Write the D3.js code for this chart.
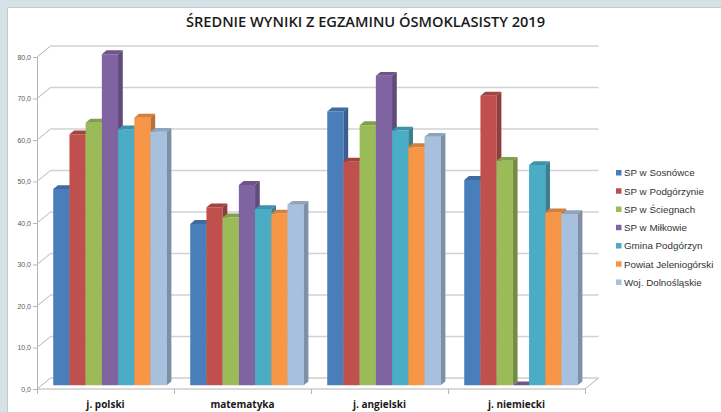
<!DOCTYPE html>
<html>
<head>
<meta charset="utf-8">
<script src="https://cdn.jsdelivr.net/npm/d3@7"></script>
<style>
	body { margin: 0; background: #fff; }
	svg { display: block; }
</style>
</head>
<body>
<svg id="chart" width="721" height="412"></svg>
<script>
var categories = ["j. polski", "matematyka", "j. angielski", "j. niemiecki"];
var seriesNames = ["SP w Sosnówce", "SP w Podgórzynie", "SP w Ściegnach", "SP w Miłkowie", "Gmina Podgórzyn", "Powiat Jeleniogórski", "Woj. Dolnośląskie"];
// one array per series, values in category order
var sosnowka   = [47.3, 38.9, 66.0, 49.5];
var podgorzyn  = [60.5, 42.9, 53.9, 69.8];
var sciegny    = [63.3, 40.5, 62.7, 54.1];
var milkow     = [79.8, 48.3, 74.6, 0.0];
var gmina      = [61.7, 42.5, 61.4, 53.1];
var powiat     = [64.5, 41.4, 57.4, 41.7];
var wojewodztwo = [61.1, 43.5, 59.9, 41.3];
var seriesValues = [sosnowka, podgorzyn, sciegny, milkow, gmina, powiat, wojewodztwo];
var yTicks = [0, 10, 20, 30, 40, 50, 60, 70, 80];
var colors = ["#4a7ebb", "#c0504d", "#9bbb59", "#8064a2", "#4bacc6", "#f79646", "#a7c0de"];
var titleText = "ŚREDNIE WYNIKI Z EGZAMINU ÓSMOKLASISTY 2019";

(function() {
	"use strict";

	var svg = d3.select("#chart"),
		front = { left: 37, right: 585, floor: 389, top: 57 },
		depth = [13.5, -11],
		barZ = [0.33, 0.68],
		gridColor = "#d2d2d2",
		axisColor = "#b4b4b4";

	var x = d3.scaleBand()
		.domain(categories)
		.range([front.left, front.right])
		.paddingInner(0.172)
		.paddingOuter(0.086);

	var xs = d3.scaleBand()
		.domain(d3.range(seriesNames.length))
		.range([0, x.bandwidth()]);

	var y = d3.scaleLinear().domain([0, 80]).range([front.floor, front.top]);

	var fmt = function(v) { return d3.format(".1f")(v).replace(".", ","); };

	// frame strips
	svg.append("rect").attr("x", 0).attr("y", 0).attr("width", 721).attr("height", 7).attr("fill", "#d5e2e8");
	svg.append("rect").attr("x", 0).attr("y", 0).attr("width", 7).attr("height", 412).attr("fill", "#d5e2e8");
	svg.append("path").attr("d", "M7.5,412V7.5H721").attr("fill", "none").attr("stroke", "#c3cbcf");

	// back wall gridlines + slanted side lines
	var grid = svg.append("g").attr("class", "grid");
	grid.selectAll("line.back")
		.data(yTicks)
		.enter().append("line")
		.attr("x1", front.left + depth[0])
		.attr("x2", front.right + depth[0])
		.attr("y1", function(d) { return y(d) + depth[1]; })
		.attr("y2", function(d) { return y(d) + depth[1]; })
		.attr("stroke", function(d) { return d === 0 ? axisColor : gridColor; })
		.attr("stroke-width", function(d) { return d === 0 ? 1 : 1.6; });
	grid.selectAll("line.side")
		.data(yTicks)
		.enter().append("line")
		.attr("x1", front.left)
		.attr("x2", front.left + depth[0])
		.attr("y1", function(d) { return y(d); })
		.attr("y2", function(d) { return y(d) + depth[1]; })
		.attr("stroke", axisColor)
		.attr("stroke-width", 1);

	// floor front edge and right slant
	svg.append("path")
		.attr("d", "M" + front.left + "," + front.floor + "H" + front.right +
			"l" + depth[0] + "," + depth[1])
		.attr("fill", "none")
		.attr("stroke", axisColor);

	// value axis
	var yAxis = svg.append("g")
		.attr("transform", "translate(" + front.left + ",0)")
		.call(d3.axisLeft(y).tickValues(yTicks).tickFormat(fmt).tickSizeOuter(0).tickSize(4).tickPadding(2));
	yAxis.select(".domain").attr("stroke", axisColor);
	yAxis.selectAll(".tick line").attr("stroke", axisColor);
	yAxis.selectAll("text")
		.attr("fill", "#595959")
		.style("font-family", "'Liberation Sans', Arial, sans-serif")
		.style("font-size", "7px");

	// category axis
	var xAxis = svg.append("g")
		.attr("transform", "translate(0," + front.floor + ")")
		.call(d3.axisBottom(d3.scaleLinear().domain([0, categories.length]).range([front.left, front.right]))
			.tickValues(d3.range(categories.length + 1)).tickSize(5).tickFormat(""));
	xAxis.select(".domain").remove();
	xAxis.selectAll(".tick line").attr("stroke", axisColor);

	svg.append("g").selectAll("text")
		.data(categories)
		.enter().append("text")
		.attr("x", function(d, i) { return front.left + (i + 0.5) * (front.right - front.left) / categories.length; })
		.attr("y", 408)
		.attr("text-anchor", "middle")
		.attr("fill", "#1a1a1a")
		.style("font-family", "'Open Sans', sans-serif")
		.style("font-weight", 700)
		.style("font-size", "10px")
		.text(function(d) { return d; });

	// 3d bars
	var bars = [];
	categories.forEach(function(c, ci) {
		seriesValues.forEach(function(vals, si) {
			bars.push({ cat: c, s: si, v: vals[ci] });
		});
	});

	function pt(px, py, z) {
		return [px + z * depth[0], py + z * depth[1]];
	}

	var barG = svg.append("g").attr("class", "bars");
	bars.forEach(function(b) {
		var x0 = x(b.cat) + xs(b.s),
			x1 = x0 + xs.bandwidth(),
			yt = y(b.v),
			yb = y(0),
			z0 = barZ[0], z1 = barZ[1],
			c = d3.color(colors[b.s]),
			g = barG.append("g");

		var frontFace = [pt(x0, yt, z0), pt(x1, yt, z0), pt(x1, yb, z0), pt(x0, yb, z0)],
			topFace = [pt(x0, yt, z0), pt(x1, yt, z0), pt(x1, yt, z1), pt(x0, yt, z1)],
			sideFace = [pt(x1, yt, z0), pt(x1, yt, z1), pt(x1, yb, z1), pt(x1, yb, z0)];

		g.append("path").attr("d", "M" + frontFace.join("L") + "Z").attr("fill", c.formatHex());
		g.append("path").attr("d", "M" + topFace.join("L") + "Z").attr("fill", c.darker(0.45).formatHex());
		g.append("path").attr("d", "M" + sideFace.join("L") + "Z").attr("fill", c.darker(0.8).formatHex());
	});

	// title
	var title = svg.append("text")
		.attr("x", 365.5)
		.attr("y", 27)
		.attr("text-anchor", "middle")
		.attr("fill", "#1a1a1a")
		.style("font-family", "'Open Sans', sans-serif")
		.style("font-weight", 600)
		.style("font-size", "14px")
		.text(titleText);
	var tw = title.node().getComputedTextLength();
	title.style("font-size", (14 * 359 / tw).toFixed(2) + "px");

	// legend
	var legend = svg.append("g")
		.attr("transform", "translate(616,173)")
		.selectAll("g")
		.data(seriesNames)
		.enter().append("g")
		.attr("transform", function(d, i) { return "translate(0," + (i * 18.25) + ")"; });
	legend.append("rect")
		.attr("x", 0).attr("y", -3)
		.attr("width", 5.5).attr("height", 5.5)
		.attr("fill", function(d, i) { return colors[i]; });
	legend.append("text")
		.attr("x", 8)
		.attr("y", 0)
		.attr("dy", "0.35em")
		.attr("fill", "#333")
		.style("font-family", "'Liberation Sans', Arial, sans-serif")
		.style("font-size", "9.8px")
		.text(function(d) { return d; });
})();
</script>
</body>
</html>
